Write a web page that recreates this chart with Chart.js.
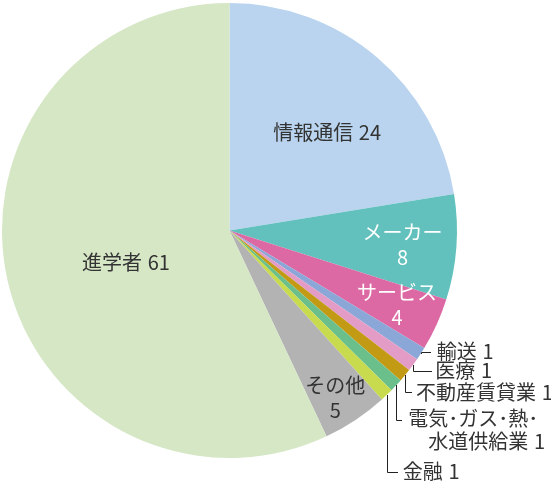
<!DOCTYPE html>
<html>
<head>
<meta charset="utf-8">
<script src="https://cdn.jsdelivr.net/npm/chart.js@4"></script>
<style>
  body { margin: 0; background: #fff; }
</style>
</head>
<body>
<canvas id="chart" width="551" height="481"></canvas>
<script>
// data, clockwise from 12 o'clock
const categories = ["情報通信", "メーカー", "サービス", "輸送", "医療", "不動産賃貸業", "電気･ガス･熱･水道供給業", "金融", "その他", "進学者"];
const counts = [24, 8, 4, 1, 1, 1, 1, 1, 5, 61];
const colors = ["#bad4ef", "#62c1bd", "#dc69a4", "#8aa7d7", "#e39cc6", "#c39a14", "#6bbf8b", "#c8da4d", "#b3b3b3", "#d6e7c6"];

const FONT = "20px 'Noto Sans CJK JP', 'Noto Sans', sans-serif";
const INK = "#333";
const SP = " \u200A";

// labels inside the slice: position as fraction of the slice angle and of the radius
const inside = {
  0: { ft: 0.557, fr: 0.607, color: INK, lines: (n, v) => [n + SP + v] },
  1: { ft: 0.52, fr: 0.763, color: "#fff", lines: (n, v) => [n, "" + v] },
  2: { ft: 0.47, fr: 0.806, color: "#fff", lines: (n, v) => [n, "" + v] },
  8: { ft: 0.58, fr: 0.87, color: INK, lines: (n, v) => [n, "" + v] },
  9: { ft: 0.479, fr: 0.476, color: INK, lines: (n, v) => [n + SP + v] },
};

// labels outside with leader lines: drop below the edge point, then a short run right
const outside = {
  3: { drop: -2, run: 10, gap: 6 },
  4: { drop: 6, run: 19, gap: 3 },
  5: { drop: 17, run: 7, gap: 4 },
  6: { drop: 35, run: 6, gap: 6, split: ["電気･ガス･熱･", "水道供給業"], indent: 20 },
  7: { drop: 77, run: 11, gap: 5 },
};

function drawLabels(chart) {
  const ctx = chart.ctx;
  const arcs = chart.getDatasetMeta(0).data;
  ctx.save();
  ctx.font = FONT;
  ctx.textBaseline = "middle";

  arcs.forEach((arc, i) => {
    const p = arc.getProps(["x", "y", "startAngle", "endAngle", "outerRadius"], true);
    const name = categories[i];
    const val = counts[i];

    if (inside[i]) {
      const cfg = inside[i];
      const a = p.startAngle + (p.endAngle - p.startAngle) * cfg.ft;
      const r = p.outerRadius * cfg.fr;
      const x = p.x + Math.cos(a) * r;
      const y = p.y + Math.sin(a) * r;
      const lines = cfg.lines(name, val);
      const lh = 25;
      ctx.fillStyle = cfg.color;
      ctx.textAlign = "center";
      lines.forEach((t, k) => {
        ctx.fillText(t, x, y + (k - (lines.length - 1) / 2) * lh);
      });
    } else if (outside[i]) {
      const cfg = outside[i];
      const a = (p.startAngle + p.endAngle) / 2;
      const x0 = p.x + Math.cos(a) * p.outerRadius;
      const y0 = p.y + Math.sin(a) * p.outerRadius;
      const y1 = y0 + cfg.drop;
      const x1 = x0 + cfg.run;
      ctx.strokeStyle = "#222";
      ctx.lineWidth = 1;
      ctx.beginPath();
      const px = Math.round(x0) + 0.5;
      const py = Math.round(y1) + 0.5;
      ctx.moveTo(px, Math.round(y0));
      ctx.lineTo(px, py);
      ctx.lineTo(Math.round(x1), py);
      ctx.stroke();
      ctx.fillStyle = INK;
      ctx.textAlign = "left";
      if (cfg.split) {
        ctx.fillText(cfg.split[0], x1 + cfg.gap, y1 - 2);
        ctx.fillText(cfg.split[1] + SP + val, x1 + cfg.gap + cfg.indent, y1 + 21);
      } else {
        ctx.fillText(name + SP + val, x1 + cfg.gap, y1);
      }
    }
  });
  ctx.restore();
}

new Chart(document.getElementById("chart").getContext("2d"), {
  type: "pie",
  data: {
    labels: categories,
    datasets: [{
      data: counts,
      backgroundColor: colors,
      borderWidth: 0,
    }],
  },
  options: {
    responsive: false,
    animation: false,
    devicePixelRatio: 1,
    layout: { padding: { left: 2, top: 3, right: 94, bottom: 23 } },
    plugins: {
      legend: { display: false },
      tooltip: { enabled: false },
    },
  },
  plugins: [{ id: "sliceLabels", afterDraw: drawLabels }],
});
</script>
</body>
</html>
